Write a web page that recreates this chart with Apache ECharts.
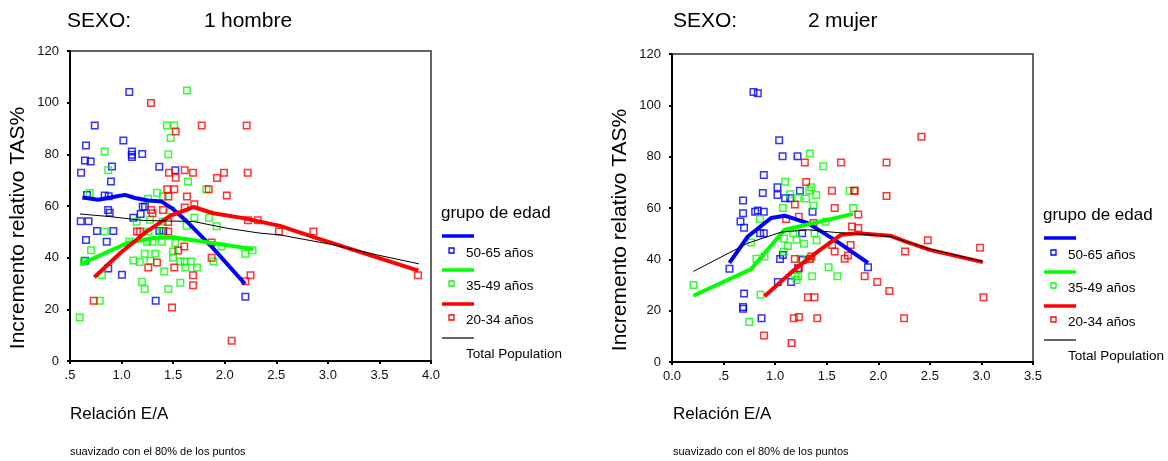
<!DOCTYPE html>
<html>
<head>
<meta charset="utf-8">
<script src="https://cdn.jsdelivr.net/npm/echarts@6/dist/echarts.min.js"></script>
<style>html,body{margin:0;padding:0;background:#fff;}#c{width:1168px;height:461px;}</style>
</head>
<body>
<div id="c"></div>
<script>
// ---- tick labels ----
const xTicksHombre = ['.5','1.0','1.5','2.0','2.5','3.0','3.5','4.0'];
const xTicksMujer  = ['0.0','.5','1.0','1.5','2.0','2.5','3.0','3.5'];
const yTicks = ['0','20','40','60','80','100','120'];
const groupNames = ['50-65 años','35-49 años','20-34 años','Total Population'];

// ---- SEXO 1 hombre : points [Relación E/A, Incremento TAS%] ----
const hombre5065 = [[1.075,104.1],[0.74,91.2],[1.017,85.4],[0.655,83.4],[1.10,81.1],[1.10,79.8],[1.10,79.0],[1.20,80.1],
 [0.645,77.6],[0.70,77.2],[0.907,75.3],[1.366,75.2],[0.607,72.9],[1.521,73.8],[0.897,69.5],[0.836,64.1],[0.875,63.8],
 [0.665,64.3],[1.227,59.7],[1.205,59.7],[0.87,58.5],[0.885,57.4],[1.185,56.9],[1.114,55.5],[0.604,54.1],[0.68,54.1],
 [0.762,50.3],[0.92,50.3],[1.366,50.3],[1.405,50.3],[0.655,46.8],[0.856,46.2],[0.645,38.8],[0.871,35.8],[1.004,33.4],
 [1.331,23.3],[2.20,24.9]];
const hombre3549 = [[1.634,104.7],[1.44,91.2],[1.51,91.2],[1.476,86.3],[0.836,81.1],[1.453,80.0],[0.871,73.8],[1.644,69.5],
 [1.822,66.5],[0.69,65.0],[1.343,65.1],[1.40,63.7],[1.256,62.8],[1.479,58.3],[1.705,55.5],[1.848,55.5],[1.146,53.9],
 [1.276,54.7],[1.40,54.0],[1.631,52.4],[1.922,52.2],[0.836,50.1],[1.26,50.1],[1.39,50.1],[0.704,42.9],[1.075,46.2],
 [1.247,46.2],[1.30,46.2],[1.39,46.2],[1.521,45.7],[1.97,44.3],[1.224,41.5],[1.327,41.5],[1.499,42.4],[1.499,40.0],
 [2.20,41.5],[2.27,42.9],[1.114,38.9],[1.175,38.3],[1.279,38.8],[1.57,38.5],[1.61,38.5],[1.67,38.5],[1.89,38.5],
 [1.618,36.2],[1.731,36.2],[1.414,34.6],[0.81,33.2],[1.198,30.7],[1.57,30.3],[1.224,27.9],[1.453,27.9],[0.788,23.3],
 [0.594,16.8],[0.636,38.5]];
const hombre2034 = [[1.285,99.9],[1.777,91.2],[2.213,91.2],[1.525,88.8],[1.46,72.9],[1.525,70.9],[1.612,73.8],[1.693,72.9],
 [1.993,72.9],[1.925,70.8],[2.223,72.9],[1.443,66.5],[1.511,66.5],[1.845,66.5],[2.02,64.1],[1.453,63.7],[1.634,63.7],
 [1.705,60.7],[1.612,59.4],[1.285,58.5],[1.30,57.2],[1.402,58.5],[1.453,53.8],[2.226,54.5],[2.32,54.5],[1.15,50.1],
 [1.18,50.1],[1.453,50.1],[1.873,45.9],[1.608,44.3],[1.55,42.8],[1.873,40.0],[1.343,38.1],[1.259,36.2],[1.511,36.2],
 [1.693,33.2],[1.693,29.3],[2.25,33.2],[2.20,30.9],[0.73,23.3],[1.489,20.7],[2.068,7.8],[2.526,50.1],[2.86,50.1],[3.874,33.2]];
// smoothed curves (80% of points)
const hombreFit5065 = [[0.62,63.3],[0.775,62.4],[0.904,63.4],[1.033,64.3],[1.13,63.1],[1.259,62.1],[1.389,61.7],[1.486,59.2],
 [1.615,54.7],[1.873,44.3],[2.197,29.8]];
const hombreFit3549 = [[0.604,37.5],[1.05,45.6],[1.308,47.6],[1.502,47.9],[1.793,46.2],[2.277,43.3]];
const hombreFit2034 = [[0.736,32.4],[0.985,41.7],[1.243,50.1],[1.47,56.2],[1.696,59.6],[1.889,57.2],[2.18,55.3],[2.536,52.3],
 [2.892,47.6],[3.877,35.0]];
const hombreFitTotal = [[0.597,56.9],[0.888,55.9],[1.21,54.4],[1.696,54.0],[2.02,51.4],[2.342,49.5],[2.536,48.8],[3.053,45.0],
 [3.474,41.1],[3.884,37.6]];

// ---- SEXO 2 mujer ----
const mujer5065 = [[0.79,105.2],[0.832,104.7],[1.039,86.4],[1.072,80.2],[1.217,80.2],[0.89,72.9],[1.023,68.1],[1.023,65.1],
 [0.88,65.8],[1.24,66.7],[0.689,62.9],[1.097,63.8],[1.146,63.8],[0.689,58.0],[0.832,59.0],[0.806,58.5],[0.89,58.5],
 [0.664,54.7],[0.699,52.3],[0.854,50.2],[0.89,50.2],[1.262,50.2],[1.363,58.5],[1.048,40.1],[1.075,41.7],[1.266,39.7],
 [1.223,36.5],[0.557,36.3],[1.026,31.2],[1.155,31.2],[1.90,36.9],[0.699,26.7],[0.689,21.4],[0.689,20.7],[0.868,17.0]];
const mujer3549 = [[1.337,81.2],[1.466,76.3],[1.097,70.2],[1.35,68.1],[1.33,66.8],[1.398,65.1],[1.146,65.4],[1.22,63.8],
 [1.30,63.7],[1.722,66.7],[1.373,60.9],[1.075,60.0],[1.757,60.0],[0.854,55.7],[1.489,54.6],[1.175,50.2],[1.382,50.2],
 [1.085,48.1],[1.208,47.6],[1.402,47.4],[1.279,46.1],[1.123,45.2],[0.767,46.6],[1.085,43.0],[0.819,40.2],[0.897,41.1],
 [1.247,40.2],[1.34,40.2],[1.518,36.9],[1.191,33.4],[1.223,33.4],[1.359,33.4],[1.602,33.4],[1.208,31.9],[0.208,30.0],
 [0.858,26.2],[0.748,15.6]];
const mujer2034 = [[1.288,77.7],[1.638,77.7],[1.301,70.1],[1.551,66.7],[1.771,66.7],[1.191,61.4],[1.577,60.0],[1.23,56.6],
 [1.107,55.7],[1.373,54.2],[1.806,57.5],[1.745,52.8],[1.806,52.2],[1.553,45.6],[1.732,45.6],[1.577,43.1],[1.706,41.5],
 [1.674,40.2],[1.191,40.1],[1.334,40.1],[1.35,41.1],[1.23,36.5],[1.868,33.4],[1.99,31.2],[1.317,25.2],[1.382,25.2],
 [1.181,17.0],[1.23,17.5],[1.408,17.0],[0.893,10.3],[1.159,7.4],[2.418,87.8],[2.08,77.7],[2.08,64.7],[1.767,66.7],
 [2.48,47.4],[2.26,43.1],[2.987,44.5],[2.107,27.7],[3.02,25.2],[2.25,17.0]];
const mujerFit5065 = [[0.557,38.6],[0.735,48.9],[0.961,56.1],[1.091,57.0],[1.317,54.1],[1.577,47.6],[1.90,38.6]];
const mujerFit3549 = [[0.208,25.8],[0.767,36.2],[1.091,51.5],[1.35,53.9],[1.754,57.7]];
const mujerFit2034 = [[0.897,25.6],[1.188,36.0],[1.415,43.1],[1.641,49.6],[1.80,50.2],[2.114,49.2],[2.26,47.0],[2.50,43.7],[3.013,38.9]];
const mujerFitTotal = [[0.208,35.3],[0.735,46.3],[1.058,50.6],[1.317,51.5],[1.577,50.5],[1.77,50.0],[2.114,48.9],[2.50,44.0],[3.013,39.2]];

const COLORS = ['#0000ff','#00ff00','#ff0000','#000000'];
const FONT = '"Liberation Sans", Arial, sans-serif';

function xAxisCfg(gi, min, max, labels){
  return {gridIndex:gi, type:'value', min:min, max:max, interval:0.5,
    axisLine:{show:true, onZero:false, lineStyle:{color:'#000', width:2}},
    axisTick:{show:true, length:3, lineStyle:{color:'#000', width:2}},
    splitLine:{show:false},
    axisLabel:{color:'#111', fontSize:13, fontFamily:FONT, margin:8,
      formatter:function(v){ const i = Math.round((v-min)/0.5); return labels[i]; }}};
}
function yAxisCfg(gi){
  return {gridIndex:gi, type:'value', min:0, max:120, interval:20,
    axisLine:{show:true, onZero:false, lineStyle:{color:'#000', width:2}},
    axisTick:{show:true, length:3, lineStyle:{color:'#000', width:2}},
    splitLine:{show:false},
    axisLabel:{color:'#111', fontSize:13, fontFamily:FONT, margin:11,
      formatter:function(v){ return yTicks[Math.round(v/20)]; }}};
}
function scatter(gi, data, color){
  return {type:'scatter', xAxisIndex:gi, yAxisIndex:gi, data:data, symbol:'rect', symbolSize:6.5,
    itemStyle:{color:'rgba(255,255,255,0)', borderColor:color, borderWidth:1.5}, z:2, silent:true};
}
function fit(gi, data, color, w){
  return {type:'line', xAxisIndex:gi, yAxisIndex:gi, data:data, showSymbol:false, symbol:'none',
    lineStyle:{color:color, width:w}, z:3, silent:true};
}
function legendGraphics(x0, yOff){
  const g = [];
  g.push({type:'text', left:x0, top:yOff+205, style:{text:'grupo de edad', fontSize:17, fontFamily:FONT, fill:'#000'}});
  const lineY = [236, 270, 304, 338];
  const labY = [254, 287, 321, 355];
  for (let i=0;i<4;i++){
    g.push({type:'line', shape:{x1:x0+1, y1:yOff+lineY[i], x2:x0+33, y2:yOff+lineY[i]},
      style:{stroke: i<3 ? COLORS[i] : '#333', lineWidth: i<3 ? 3.5 : 1.5}});
    if (i<3) g.push({type:'rect', shape:{x:x0+8, y:yOff+labY[i]-6, width:5, height:5},
      style:{fill:'none', stroke:COLORS[i], lineWidth:1.3}});
    g.push({type:'text', left:x0+25, top:yOff+labY[i]-8, style:{text:groupNames[i], fontSize:13.5, fontFamily:FONT, fill:'#000'}});
  }
  return g;
}
function yName(x, y){
  return {type:'text', x:x, y:y, rotation:Math.PI/2,
    style:{text:'Incremento relativo TAS%', fontSize:21, fontFamily:FONT, fill:'#000', align:'center', verticalAlign:'middle'}};
}

const chart = echarts.init(document.getElementById('c'), null, {renderer:'canvas'});
chart.setOption({
  animation:false,
  backgroundColor:'#fff',
  grid:[
    {left:70, top:51, width:361, height:310, show:true, borderColor:'#333', borderWidth:1.5, containLabel:false},
    {left:672, top:54, width:361, height:308, show:true, borderColor:'#333', borderWidth:1.5, containLabel:false}
  ],
  xAxis:[xAxisCfg(0,0.5,4.0,xTicksHombre), xAxisCfg(1,0,3.5,xTicksMujer)],
  yAxis:[yAxisCfg(0), yAxisCfg(1)],
  series:[
    scatter(0,hombre5065,COLORS[0]), scatter(0,hombre3549,COLORS[1]), scatter(0,hombre2034,COLORS[2]),
    fit(0,hombreFit5065,COLORS[0],4), fit(0,hombreFit3549,COLORS[1],4), fit(0,hombreFit2034,COLORS[2],4), fit(0,hombreFitTotal,'#000',1),
    scatter(1,mujer5065,COLORS[0]), scatter(1,mujer3549,COLORS[1]), scatter(1,mujer2034,COLORS[2]),
    fit(1,mujerFit5065,COLORS[0],4), fit(1,mujerFit3549,COLORS[1],4), fit(1,mujerFit2034,COLORS[2],4), fit(1,mujerFitTotal,'#000',1)
  ],
  graphic: [
    {type:'text', left:67, top:11, style:{text:'SEXO:', fontSize:21, fontFamily:FONT, fill:'#000'}},
    {type:'text', left:204, top:11, style:{text:'1', fontSize:21, fontFamily:FONT, fill:'#000'}},
    {type:'text', left:221, top:11, style:{text:'hombre', fontSize:21, fontFamily:FONT, fill:'#000'}},
    {type:'text', left:673, top:11, style:{text:'SEXO:', fontSize:21, fontFamily:FONT, fill:'#000'}},
    {type:'text', left:808, top:11, style:{text:'2', fontSize:21, fontFamily:FONT, fill:'#000'}},
    {type:'text', left:825, top:11, style:{text:'mujer', fontSize:21, fontFamily:FONT, fill:'#000'}},
    yName(18, 228), yName(620, 230),
    {type:'text', left:70, top:406, style:{text:'Relación E/A', fontSize:17, fontFamily:FONT, fill:'#000'}},
    {type:'text', left:673, top:406, style:{text:'Relación E/A', fontSize:17, fontFamily:FONT, fill:'#000'}},
    {type:'text', left:70, top:446, style:{text:'suavizado con el 80% de los puntos', fontSize:11, fontFamily:FONT, fill:'#000'}},
    {type:'text', left:673, top:446, style:{text:'suavizado con el 80% de los puntos', fontSize:11, fontFamily:FONT, fill:'#000'}}
  ].concat(legendGraphics(441, 0)).concat(legendGraphics(1043, 2))
});
</script>
</body>
</html>
